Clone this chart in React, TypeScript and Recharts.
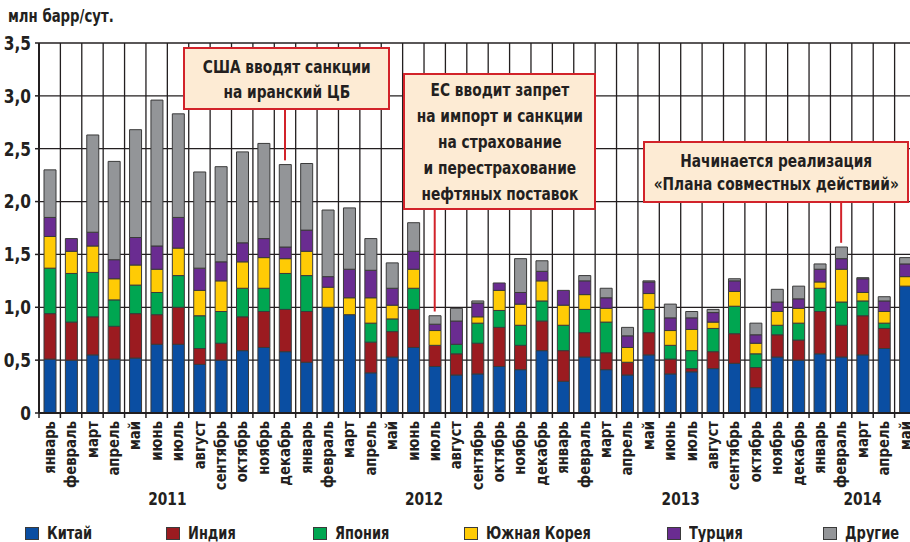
import React from 'react';
import { BarChart, Bar, XAxis, YAxis, CartesianGrid, ReferenceLine } from 'recharts';

// ---------- data ----------
const monthNames = ['январь', 'февраль', 'март', 'апрель', 'май', 'июнь', 'июль', 'август', 'сентябрь', 'октябрь', 'ноябрь', 'декабрь'];
const yearLabels = ['2011', '2012', '2013', '2014'];
const monthsPerYear = [12, 12, 12, 5];

const china = [0.51, 0.50, 0.55, 0.51, 0.52, 0.65, 0.65, 0.46, 0.50, 0.59, 0.62, 0.58,
  0.48, 1.00, 0.93, 0.38, 0.53, 0.62, 0.44, 0.36, 0.37, 0.44, 0.41, 0.59,
  0.30, 0.53, 0.41, 0.36, 0.55, 0.37, 0.39, 0.42, 0.47, 0.24, 0.53, 0.50,
  0.56, 0.53, 0.55, 0.61, 1.20];
const india = [0.43, 0.36, 0.36, 0.31, 0.42, 0.28, 0.35, 0.15, 0.16, 0.32, 0.34, 0.40,
  0.48, 0, 0, 0.29, 0.24, 0.36, 0.20, 0.20, 0.29, 0.37, 0.23, 0.28,
  0.29, 0.23, 0.16, 0.12, 0.21, 0.14, 0.03, 0.16, 0.28, 0.19, 0.21, 0.19,
  0.40, 0.30, 0.37, 0.19, 0];
const japan = [0.43, 0.46, 0.42, 0.25, 0.27, 0.21, 0.30, 0.31, 0.30, 0.27, 0.22, 0.34,
  0.34, 0, 0, 0.18, 0.12, 0.20, 0, 0.09, 0.19, 0.16, 0.19, 0.19,
  0.24, 0.22, 0.29, 0, 0.22, 0.13, 0.17, 0.22, 0.26, 0.13, 0.09, 0.16,
  0.22, 0.22, 0.14, 0.05, 0];
const korea = [0.30, 0.21, 0.25, 0.20, 0.19, 0.22, 0.26, 0.24, 0.29, 0.25, 0.29, 0.14,
  0.23, 0.19, 0.16, 0.24, 0.13, 0.18, 0.14, 0, 0.06, 0.19, 0.20, 0.19,
  0.19, 0.14, 0.13, 0.14, 0.15, 0.14, 0.20, 0.06, 0.14, 0.10, 0.13, 0.14,
  0.06, 0.31, 0.08, 0.11, 0.09];
const turkey = [0.18, 0.12, 0.13, 0.18, 0.26, 0.22, 0.29, 0.21, 0.18, 0.18, 0.18, 0.11,
  0.20, 0.10, 0.27, 0.26, 0.16, 0.17, 0.06, 0.22, 0.13, 0.07, 0.11, 0.09,
  0.14, 0.13, 0.10, 0.11, 0.11, 0.12, 0.11, 0.09, 0.10, 0.08, 0.09, 0.09,
  0.12, 0.10, 0.13, 0.10, 0.12];
const other = [0.45, 0, 0.92, 0.93, 1.02, 1.38, 0.98, 0.91, 0.90, 0.86, 0.90, 0.78,
  0.63, 0.63, 0.58, 0.30, 0.24, 0.27, 0.08, 0.12, 0.02, 0, 0.32, 0.10,
  0, 0.05, 0.09, 0.08, 0.01, 0.13, 0.06, 0.03, 0.02, 0.11, 0.12, 0.12,
  0.05, 0.11, 0.01, 0.04, 0.06];

const seriesKeys = ['china', 'india', 'japan', 'korea', 'turkey', 'other'];
const seriesNames = ['Китай', 'Индия', 'Япония', 'Южная Корея', 'Турция', 'Другие'];
const seriesValues = [china, india, japan, korea, turkey, other];
const seriesColors = ['#0a4ea2', '#9b1b20', '#00a651', '#ffcb05', '#6a2c91', '#939598'];

const yTicks = [0, 0.5, 1, 1.5, 2, 2.5, 3, 3.5];

const annotationTargets = [11, 18, 37];
const annotationTexts = [
  ['США вводят санкции', 'на иранский ЦБ'],
  ['ЕС вводит запрет', 'на импорт и санкции', 'на страхование', 'и перестрахование', 'нефтяных поставок'],
  ['Начинается реализация', '«Плана совместных действий»'],
];

// ---------- layout ----------
const FONT = "'DejaVu Sans Condensed', 'Liberation Sans Narrow', sans-serif";
const INK = '#231f20';
const SQUEEZE = 0.85;
const CHART_W = 916;
const CHART_H = 542;
const TOP = 43;
const YAXIS_W = 39;
const XAXIS_H = 129;
const PLOT_H = CHART_H - TOP - XAXIS_H;
const PLOT_BOTTOM = TOP + PLOT_H;
const Y_MAX = 3.5;

const annotationBoxes = [
  { left: 183, top: 47, width: 207, height: 63, lineHeight: 25 },
  { left: 403, top: 73, width: 193, height: 137, lineHeight: 26 },
  { left: 643, top: 141, width: 266, height: 62, lineHeight: 23 },
];
const legendX = [25, 166, 313, 464, 667, 823];

const categories: { key: string; month: string; year: string; first: boolean; count: number }[] = [];
yearLabels.forEach((y, yi) => {
  for (let m = 0; m < monthsPerYear[yi]; m++) {
    categories.push({ key: `${monthNames[m]} ${y}`, month: monthNames[m], year: y, first: m === 0, count: monthsPerYear[yi] });
  }
});

const data = categories.map((c, i) => {
  const row: any = { key: c.key };
  seriesKeys.forEach((k, si) => {
    row[k] = seriesValues[si][i];
  });
  return row;
});

const SLOT = (CHART_W - YAXIS_W) / categories.length;
const pxToVal = (py: number) => ((PLOT_BOTTOM - py) / PLOT_H) * Y_MAX;
const totalAt = (i: number) => seriesValues.reduce((s, arr) => s + arr[i], 0);

const MonthTick = (props: any) => {
  const { x, index, payload } = props;
  const cat = categories[index] || categories.find((c) => c.key === payload.value);
  const y0 = PLOT_BOTTOM;
  const yearX = x + ((cat.count - 1) / 2) * SLOT;
  return (
    <g>
      <line x1={x - SLOT / 2} x2={x - SLOT / 2} y1={y0} y2={y0 + 5} stroke={INK} strokeWidth={1.5} />
      <g transform={`translate(${x} ${y0 + 8}) rotate(-90) scale(0.92 1)`}>
        <text x={0} y={0} textAnchor="end" dominantBaseline="central" fontFamily={FONT} fontWeight={700} fontSize={16} fill={INK}>
          {cat.month}
        </text>
      </g>
      {cat.first && (
        <g transform={`translate(${yearX} ${y0 + 86}) scale(${SQUEEZE} 1)`}>
          <text x={0} y={0} textAnchor="middle" dominantBaseline="central" fontFamily={FONT} fontWeight={700} fontSize={18} fill={INK}>
            {cat.year}
          </text>
        </g>
      )}
    </g>
  );
};

const YTick = (props: any) => {
  const { x, y, payload } = props;
  const v = payload.value as number;
  const label = v === 0 ? '0' : v.toFixed(1).replace('.', ',');
  return (
    <g transform={`translate(${x} ${y}) scale(0.9 1)`}>
      <text x={0} y={0} textAnchor="end" dominantBaseline="central" fontFamily={FONT} fontWeight={700} fontSize={19} fill={INK}>
        {label}
      </text>
    </g>
  );
};

export default function App() {
  return (
    <div style={{ position: 'fixed', left: 0, top: 0, width: 910, height: 542, overflow: 'hidden', background: '#fff' }}>
      <BarChart width={CHART_W} height={CHART_H} data={data} margin={{ top: TOP, right: 0, left: 0, bottom: 0 }} barSize={12}>
        <CartesianGrid
          stroke={INK}
          strokeWidth={1.3}
          verticalCoordinatesGenerator={({ offset }: any) => {
            const arr: number[] = [];
            for (let i = 1; i <= categories.length; i++) arr.push(offset.left + (i * offset.width) / categories.length);
            return arr;
          }}
        />
        <XAxis
          dataKey="key"
          interval={0}
          height={XAXIS_H}
          tickLine={false}
          tickSize={0}
          tickMargin={0}
          axisLine={{ stroke: INK, strokeWidth: 2 }}
          tick={<MonthTick />}
        />
        <YAxis
          width={YAXIS_W}
          domain={[0, Y_MAX]}
          ticks={yTicks}
          interval={0}
          tickSize={4}
          tickMargin={4}
          axisLine={{ stroke: INK, strokeWidth: 2 }}
          tickLine={{ stroke: INK, strokeWidth: 1.5 }}
          tick={<YTick />}
        />
        {seriesKeys.map((k, i) => (
          <Bar key={k} dataKey={k} name={seriesNames[i]} stackId="a" fill={seriesColors[i]} stroke="#3a3a3a" strokeWidth={1} isAnimationActive={false} />
        ))}
        {annotationTargets.map((ti, i) => (
          <ReferenceLine
            key={i}
            segment={[
              { x: categories[ti].key, y: totalAt(ti) + 0.04 },
              { x: categories[ti].key, y: pxToVal(annotationBoxes[i].top + annotationBoxes[i].height) },
            ]}
            stroke="#d2232a"
            strokeWidth={2}
            ifOverflow="visible"
          />
        ))}
      </BarChart>

      <div
        style={{
          position: 'absolute',
          left: 8,
          top: 5,
          fontFamily: FONT,
          fontWeight: 700,
          fontSize: 18,
          lineHeight: '22px',
          color: INK,
          whiteSpace: 'nowrap',
          transform: `scaleX(0.82)`,
          transformOrigin: 'left center',
        }}
      >
        млн барр/сут.
      </div>

      {annotationTexts.map((lines, i) => {
        const b = annotationBoxes[i];
        return (
          <div
            key={i}
            style={{
              position: 'absolute',
              left: b.left,
              top: b.top,
              width: b.width,
              height: b.height,
              boxSizing: 'border-box',
              border: '2.5px solid #d2232a',
              background: '#fdebd4',
              display: 'flex',
              justifyContent: 'center',
              alignItems: 'center',
            }}
          >
            <div
              style={{
                fontFamily: FONT,
                fontWeight: 700,
                fontSize: 18,
                color: INK,
                lineHeight: `${b.lineHeight}px`,
                textAlign: 'center',
                transform: `scaleX(${SQUEEZE})`,
                transformOrigin: 'center center',
              }}
            >
              {lines.map((l, j) => (
                <div key={j} style={{ whiteSpace: 'nowrap' }}>{l}</div>
              ))}
            </div>
          </div>
        );
      })}

      {seriesNames.map((n, i) => (
        <div key={n} style={{ position: 'absolute', left: legendX[i], top: 525, height: 16, display: 'flex', alignItems: 'center' }}>
          <div style={{ width: 14, height: 13, boxSizing: 'border-box', background: seriesColors[i], border: '1px solid #3a3a3a', marginRight: 8, flex: 'none' }} />
          <span
            style={{
              display: 'inline-block',
              fontFamily: FONT,
              fontWeight: 700,
              fontSize: 17,
              lineHeight: '16px',
              color: INK,
              whiteSpace: 'nowrap',
              transform: `scaleX(${SQUEEZE})`,
              transformOrigin: 'left center',
            }}
          >
            {n}
          </span>
        </div>
      ))}
    </div>
  );
}
